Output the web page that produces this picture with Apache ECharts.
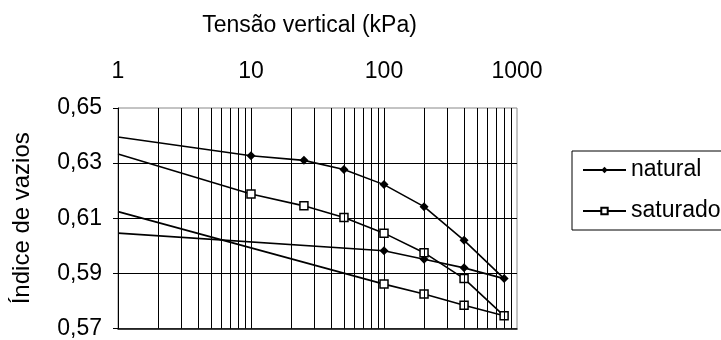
<!DOCTYPE html>
<html>
<head>
<meta charset="utf-8">
<script src="https://cdn.jsdelivr.net/npm/echarts@6/dist/echarts.min.js"></script>
<style>
  html, body { margin: 0; padding: 0; background: #fff; }
  #chart { width: 721px; height: 340px; }
</style>
</head>
<body>
<div id="chart"></div>
<script>
// tensão vertical (kPa): carregamento e descarregamento
const naturalX = [1, 10, 25, 50, 100, 200, 400, 800, 400, 200, 100, 1];
const naturalY = [0.6395, 0.6327, 0.631, 0.6277, 0.6222, 0.6142, 0.602, 0.5881, 0.592, 0.5951, 0.5982, 0.6046];
const saturadoX = [1, 10, 25, 50, 100, 200, 400, 800, 400, 200, 100, 1];
const saturadoY = [0.6333, 0.6188, 0.6145, 0.6103, 0.6046, 0.5975, 0.5881, 0.5746, 0.5784, 0.5825, 0.5861, 0.6124];
// linhas de grade secundárias do eixo log
const minorTicks = [2, 3, 4, 5, 6, 7, 8, 9, 20, 30, 40, 50, 60, 70, 80, 90, 200, 300, 400, 500, 600, 700, 800, 900];
const yTicks = [0.57, 0.59, 0.61, 0.63, 0.65];

const font = "Liberation Sans, Arial, sans-serif";

// pontos em x = 1 ficam sem marcador (como no original)
function buildData(xs, ys) {
  return xs.map((x, i) => {
    if (x === 1) return { value: [x, ys[i]], symbol: "none" };
    return [x, ys[i]];
  });
}

const chart = echarts.init(document.getElementById("chart"));

const option = {
  animation: false,
  backgroundColor: "#fff",
  textStyle: { fontFamily: font },
  grid: {
    left: 118,
    right: 204,
    top: 108,
    bottom: 6,
    show: true,
    borderColor: "#888",
    borderWidth: 1,
  },
  legend: {
    left: 572,
    top: 151,
    orient: "vertical",
    padding: [6, 60, 6, 10],
    itemWidth: 43,
    itemHeight: 8,
    itemGap: 15,
    borderColor: "#000",
    borderWidth: 1,
    textStyle: { fontSize: 23, color: "#000", fontFamily: font, lineHeight: 26 },
    data: ["natural", "saturado"],
  },
  xAxis: [
    {
      type: "log",
      logBase: 10,
      min: 1,
      max: 1000,
      position: "top",
      name: "Tensão vertical (kPa)",
      nameLocation: "middle",
      nameGap: 71,
      nameTextStyle: { fontSize: 23, color: "#000", fontFamily: font, padding: [0, 16, 0, 0] },
      axisLine: { show: false },
      axisTick: { show: false },
      axisLabel: {
        fontSize: 23,
        color: "#000",
        margin: 25,
        fontFamily: font,
        formatter: (v) => String(Math.round(v)),
      },
      splitLine: { show: true, showMinLine: false, showMaxLine: false, lineStyle: { color: "#000", width: 1 } },
    },
    {
      type: "log",
      logBase: 10,
      min: 1,
      max: 1000,
      position: "bottom",
      axisLine: { show: true, lineStyle: { color: "#000", width: 1.5 } },
      axisTick: { show: false },
      axisLabel: { show: false },
      splitLine: { show: false },
    },
  ],
  yAxis: {
    type: "value",
    min: 0.57,
    max: 0.65,
    interval: 0.02,
    name: "Índice de vazios",
    nameLocation: "middle",
    nameGap: 84,
    nameTextStyle: { fontSize: 24, color: "#000", fontFamily: font },
    axisLine: { show: true, lineStyle: { color: "#000", width: 1 } },
    axisTick: { show: true, length: 5, lineStyle: { color: "#000" } },
    axisLabel: {
      fontSize: 23,
      color: "#000",
      margin: 16,
      fontFamily: font,
      formatter: (v) => v.toFixed(2).replace(".", ","),
    },
    splitLine: { show: true, showMinLine: false, showMaxLine: false, lineStyle: { color: "#000", width: 1 } },
  },
  series: [
    {
      // grade secundária
      type: "line",
      data: [],
      silent: true,
      z: 1,
      markLine: {
        silent: true,
        symbol: "none",
        label: { show: false },
        lineStyle: { color: "#000", width: 1, type: "solid" },
        emphasis: { disabled: true },
        data: minorTicks.map((v) => ({ xAxis: v })),
      },
    },
    {
      name: "natural",
      type: "line",
      z: 3,
      data: buildData(naturalX, naturalY),
      symbol: "diamond",
      symbolSize: 9,
      itemStyle: { color: "#000" },
      lineStyle: { color: "#000", width: 1.6 },
    },
    {
      name: "saturado",
      type: "line",
      z: 3,
      data: buildData(saturadoX, saturadoY),
      symbol: "rect",
      symbolSize: 8,
      itemStyle: { color: "#fff", borderColor: "#000", borderWidth: 1.5 },
      lineStyle: { color: "#000", width: 1.6 },
    },
  ],
};

chart.setOption(option);
</script>
</body>
</html>
